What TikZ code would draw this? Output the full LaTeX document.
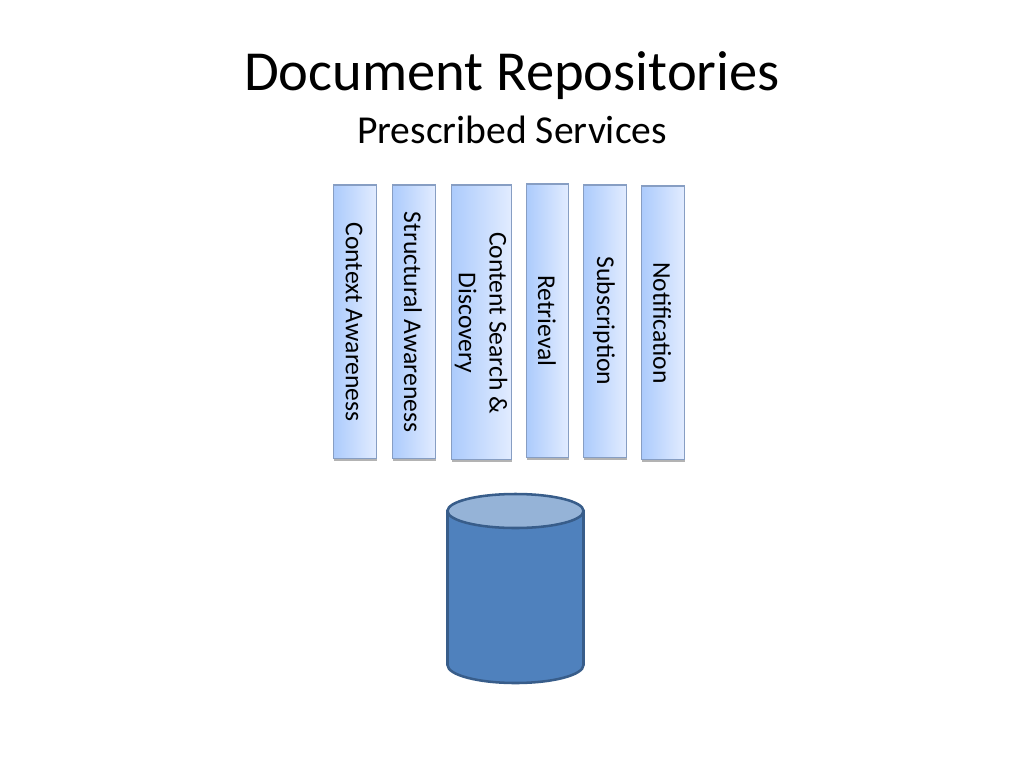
\documentclass[tikz,border=0pt]{standalone}
\usepackage{fontspec}
\setmainfont{Carlito}
\usetikzlibrary{shadows}
\definecolor{boxedge}{RGB}{135,158,195}
\definecolor{boxleft}{RGB}{172,203,252}
\definecolor{boxright}{RGB}{226,236,255}
\definecolor{drumfill}{RGB}{79,129,189}
\definecolor{drumedge}{RGB}{56,93,138}
\definecolor{drumtop}{RGB}{149,179,215}
\tikzset{
  servicebox/.style={draw=boxedge,line width=0.8pt,left color=boxleft,right color=boxright,
    drop shadow={shadow xshift=0.5pt,shadow yshift=-1.6pt,opacity=0.4,fill=black!75}},
  servicetext/.style={rotate=-90,align=center,font=\fontsize{19.2}{23}\selectfont,inner sep=0pt},
  drumline/.style={draw=drumedge,line width=1.9pt}
}
\begin{document}
\begin{tikzpicture}[x=0.75pt,y=0.75pt,yscale=-1,xscale=1]
\useasboundingbox (0,0) rectangle (1024,768);

% Text Node
\node (title) at (512,76) {\fontsize{42.4}{48}\selectfont Document Repositories};
% Text Node
\node (subtitle) at (512,130) {\fontsize{29.7}{34}\selectfont Prescribed Services};

% Shape: Rectangle
\path [servicebox] (333.5,185) rectangle (376.5,458.5);
\path [servicebox] (392.5,185) rectangle (435.5,458.5);
\path [servicebox] (451.5,185) rectangle (511.5,459.5);
\path [servicebox] (526.5,184) rectangle (568.5,457.5);
\path [servicebox] (583.5,185) rectangle (626.5,457.5);
\path [servicebox] (641.5,186) rectangle (684.5,459.5);

% Text Node
\node (context) [servicetext] at (354,322) {Context Awareness};
\node (structural) [servicetext] at (413,322) {Structural Awareness};
\node (search) [servicetext] at (481,323) {Content Search \&\\Discovery};
\node (retrieval) [servicetext] at (547,321) {Retrieval};
\node (subscription) [servicetext] at (604,321) {Subscription};
\node (notification) [servicetext] at (662,323) {Notification};

% Shape: Can
\draw [drumline,fill=drumfill] (447.5,511) -- (447.5,665) .. controls (447.5,675) and (478,683) .. (515.5,683) .. controls (553,683) and (583.5,675) .. (583.5,665) -- (583.5,511) -- cycle;
\draw [drumline,fill=drumtop] (447.5,511) .. controls (447.5,501.5) and (478,494) .. (515.5,494) .. controls (553,494) and (583.5,501.5) .. (583.5,511) .. controls (583.5,520.5) and (553,528) .. (515.5,528) .. controls (478,528) and (447.5,520.5) .. (447.5,511) -- cycle;

\end{tikzpicture}
\end{document}
